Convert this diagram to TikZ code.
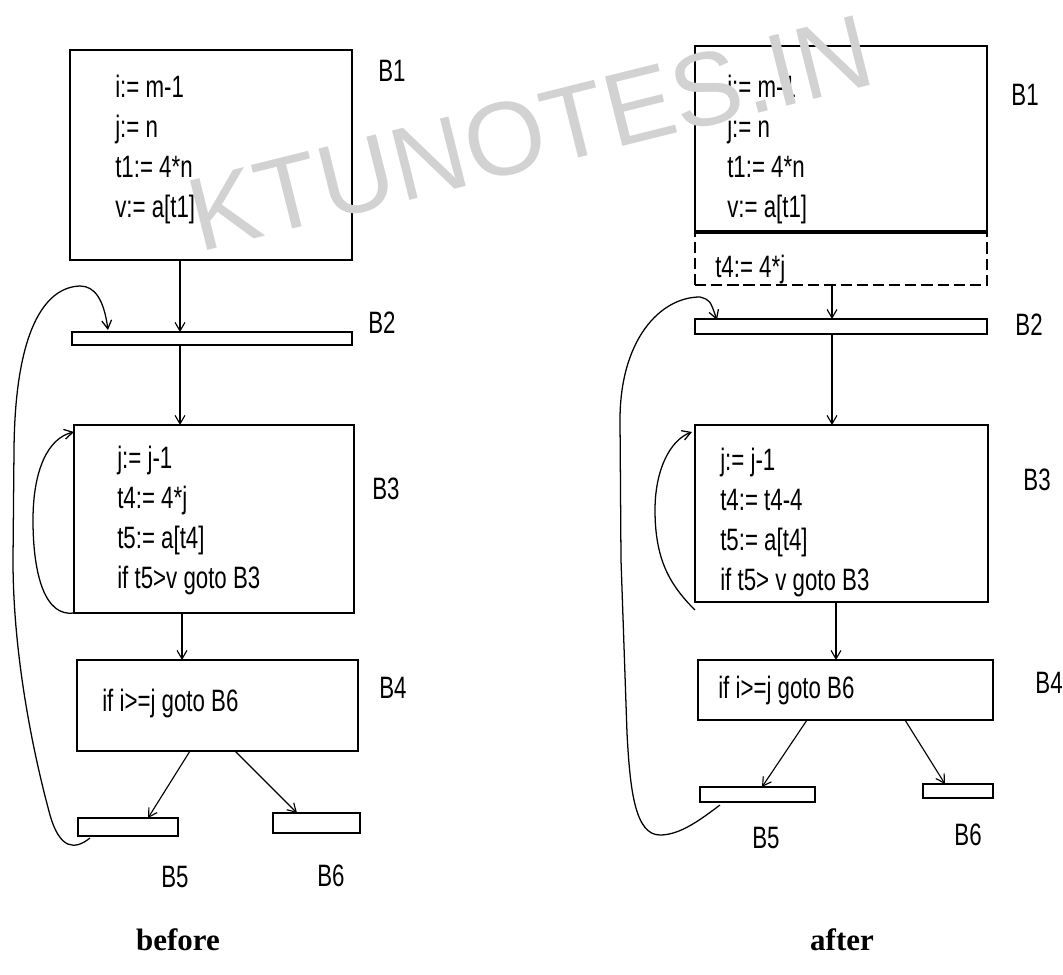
\documentclass[tikz,border=0pt]{standalone}
\usepackage{fontspec}
\setmainfont{Liberation Serif}
\newfontfamily\blockfont[FakeStretch=0.72]{Liberation Sans}
\newfontfamily\markfont{Liberation Sans}
\usetikzlibrary{arrows.meta, calc}

\begin{document}
\begin{tikzpicture}[
  x=0.025cm, y=-0.025cm,
  block/.style={rectangle, draw=black, line width=1.3pt, inner sep=0pt, outer sep=0pt},
  bar/.style={block, line width=1.1pt},
  code/.style={anchor=north west, inner sep=0pt, align=left, font=\blockfont\fontsize{22}{28.5}\selectfont},
  tag/.style={inner sep=0pt, font=\blockfont\fontsize{22}{24}\selectfont},
  caption/.style={anchor=base, inner sep=0pt, font=\bfseries\fontsize{22}{24}\selectfont},
  arrow/.style={line width=0.8pt, -{Straight Barb[length=6pt,width=7pt]}},
  loop/.style={arrow, line width=0.9pt}
]
\useasboundingbox (0,0) rectangle (1063,974);

% Before: blocks
\node (b1L) [block, minimum width=7.05cm, minimum height=5.25cm] at (211,155) {};
\node (b2L) [bar, minimum width=7cm, minimum height=0.325cm] at (212,338.5) {};
\node (b3L) [block, minimum width=7cm, minimum height=4.7cm] at (214,519) {};
\node (b4L) [block, minimum width=7.025cm, minimum height=2.275cm] at (217.5,705.5) {};
\node (b5L) [bar, minimum width=2.5cm, minimum height=0.45cm] at (128,827) {};
\node (b6L) [bar, minimum width=2.175cm, minimum height=0.5cm] at (316.5,823) {};

\node (b1Ltxt) [code] at (115,75) {i:= m-1\\ j:= n\\ t1:= 4*n\\ v:= a[t1]};
\node (b3Ltxt) [code] at (117,446) {j:= j-1\\ t4:= 4*j\\ t5:= a[t4]\\ if t5>v goto B3};
\node (b4Ltxt) [code] at (102,689) {if i>=j goto B6};

\node (b1Ltag) [tag] at (392,71) {B1};
\node (b2Ltag) [tag] at (382,323) {B2};
\node (b3Ltag) [tag] at (386,489) {B3};
\node (b4Ltag) [tag] at (393,688) {B4};
\node (b5Ltag) [tag] at (175,877) {B5};
\node (b6Ltag) [tag] at (331,876) {B6};

% Before: edges
\draw [arrow] ($(b1L.south)+(-31,0)$) -- ($(b2L.north)+(-32,0)$);
\draw [arrow] ($(b2L.south)+(-32,0)$) -- ($(b3L.north)+(-34,0)$);
\draw [arrow] ($(b3L.south)+(-32,0)$) -- ($(b4L.north)+(-35.5,0)$);
\draw [arrow] ($(b4L.south)+(-27.5,0)$) -- ($(b5L.north)+(20,0)$);
\draw [arrow] ($(b4L.south)+(17.5,0)$) -- ($(b6L.north)+(-19.5,0)$);
\draw [loop] (b3L.south west) .. controls (45,617) and (33,575) .. (33,520)
  .. controls (33,470) and (48,438) .. ($(b3L.north west)+(0,7)$);
\draw [loop] ($(b5L.south west)+(12,2)$) .. controls (75,850) and (60,850) .. (50,815)
  .. controls (35,760) and (13,660) .. (13,560) -- (14,450)
  .. controls (15,330) and (45,287) .. (80,286)
  .. controls (95,286) and (104,300) .. ($(b2L.north west)+(36,-2)$);

% After: blocks
\node (t4R) [block, dash pattern=on 8pt off 3.5pt, minimum width=7.3cm, minimum height=1.325cm] at (841,258.5) {};
\node (b1R) [block, minimum width=7.3cm, minimum height=4.65cm] at (841,139) {};
\draw [line width=2.2pt] (b1R.south west) -- (b1R.south east);
\node (b2R) [bar, minimum width=7.3cm, minimum height=0.375cm] at (841,326.5) {};
\node (b3R) [block, minimum width=7.325cm, minimum height=4.425cm] at (841.5,513.5) {};
\node (b4R) [block, minimum width=7.375cm, minimum height=1.5cm] at (845.5,690) {};
\node (b5R) [bar, minimum width=2.875cm, minimum height=0.375cm] at (757.5,794.5) {};
\node (b6R) [bar, minimum width=1.75cm, minimum height=0.35cm] at (958,791) {};

\node (b1Rtxt) [code] at (727,75) {i:= m-1\\ j:= n\\ t1:= 4*n\\ v:= a[t1]};
\node (t4Rtxt) [code] at (715,255) {t4:= 4*j};
\node (b3Rtxt) [code] at (720,448) {j:= j-1\\ t4:= t4-4\\ t5:= a[t4]\\ if t5> v goto B3};
\node (b4Rtxt) [code] at (718,676) {if i>=j goto B6};

\node (b1Rtag) [tag] at (1025,95) {B1};
\node (b2Rtag) [tag] at (1029,325) {B2};
\node (b3Rtag) [tag] at (1037,480) {B3};
\node (b4Rtag) [tag] at (1049,683) {B4};
\node (b5Rtag) [tag] at (766,838) {B5};
\node (b6Rtag) [tag] at (968,835) {B6};

% After: edges
\draw [arrow] ($(t4R.south)+(-9,0)$) -- ($(b2R.north)+(-9,0)$);
\draw [arrow] ($(b2R.south)+(-9,0)$) -- ($(b3R.north)+(-9.5,0)$);
\draw [arrow] ($(b3R.south)+(-5.5,0)$) -- ($(b4R.north)+(-9.5,0)$);
\draw [arrow] ($(b4R.south)+(-38.5,0)$) -- ($(b5R.north)+(4.5,0)$);
\draw [arrow] ($(b4R.south)+(59.5,0)$) -- ($(b6R.north)+(-13,0)$);
\draw [loop] ($(b3R.south west)+(0,8)$) .. controls (670,585) and (655,560) .. (655,510)
  .. controls (655,470) and (670,440) .. ($(b3R.north west)+(-3,7)$);
\draw [loop] ($(b5R.south west)+(20,3)$) .. controls (700,820) and (680,835) .. (660,835)
  .. controls (635,835) and (630,790) .. (627,733) -- (621,560) -- (620,420)
  .. controls (620,340) and (660,297) .. (700,297)
  .. controls (710,300) .. ($(b2R.north west)+(22,1)$);

% Captions
\node (before) [caption] at (178,950) {before};
\node (after) [caption] at (842,950) {after};

% Watermark
\node (mark) [inner sep=0pt, rotate=14, text=gray!35, font=\markfont\fontsize{74}{80}\selectfont] at (530,133) {KTUNOTES.IN};
\end{tikzpicture}
\end{document}
